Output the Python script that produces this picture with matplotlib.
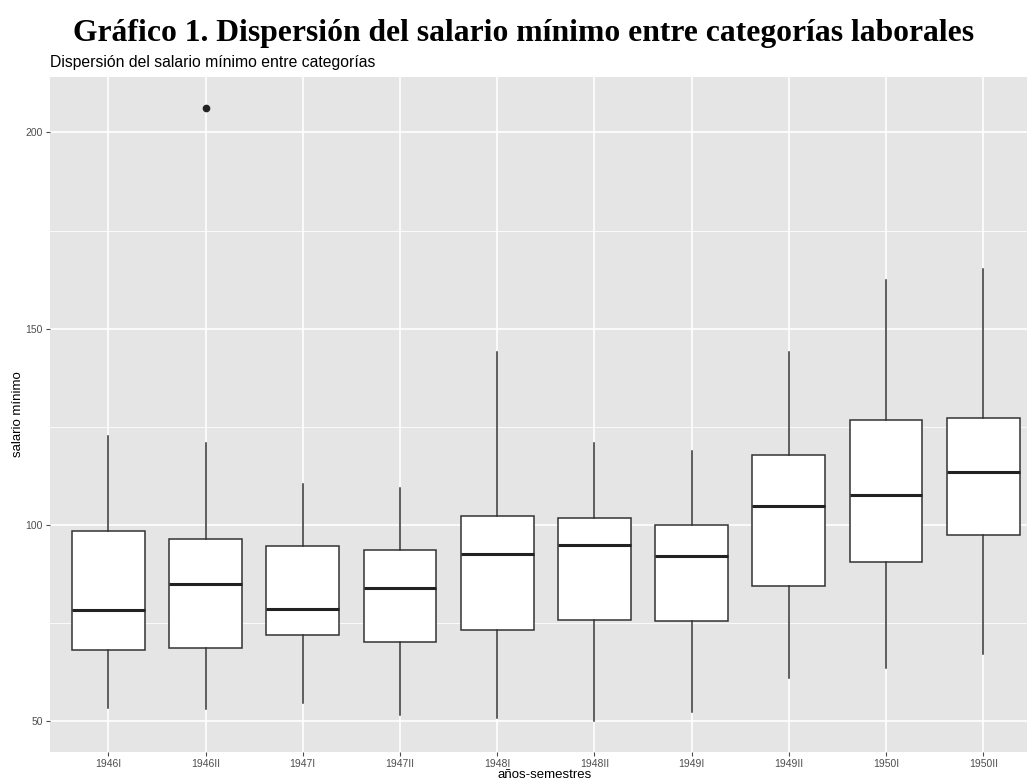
import matplotlib
matplotlib.use("Agg")
import matplotlib.pyplot as plt
from matplotlib.ticker import MultipleLocator

plt.rcParams['font.family'] = ['Liberation Sans', 'DejaVu Sans']

# semestres y estadisticos de cada caja
periodos = ["1946I", "1946II", "1947I", "1947II", "1948I",
            "1948II", "1949I", "1949II", "1950I", "1950II"]
whisker_low = [53.3, 53.1, 54.8, 51.6, 50.9, 50.0, 52.3, 61.1, 63.6, 67.1]
q1 = [68.1, 68.7, 72.0, 70.2, 73.3, 75.8, 75.6, 84.5, 90.7, 97.5]
mediana = [78.3, 84.9, 78.7, 83.9, 92.6, 94.9, 92.2, 104.8, 107.6, 113.6]
q3 = [98.6, 96.4, 94.6, 93.6, 102.2, 101.8, 99.9, 117.8, 126.8, 127.2]
whisker_high = [122.6, 120.9, 110.5, 109.4, 144.0, 120.8, 118.9, 144.0, 162.5, 165.3]
outliers = [[], [206.3], [], [], [], [], [], [], [], []]

stats = []
for i in range(len(periodos)):
    stats.append(dict(med=mediana[i], q1=q1[i], q3=q3[i],
                      whislo=whisker_low[i], whishi=whisker_high[i],
                      fliers=outliers[i], label=periodos[i]))

fig = plt.figure(figsize=(10.27, 7.81), dpi=100)
ax = fig.add_axes([50 / 1027, 1 - 752 / 781, 1 - 50 / 1027, (752 - 77) / 781])
ax.set_facecolor("#E5E5E5")

line_col = "#333333"
ax.bxp(stats, positions=range(1, len(periodos) + 1), widths=0.75,
       showcaps=False, patch_artist=True,
       boxprops=dict(facecolor="white", edgecolor=line_col, linewidth=1.1),
       whiskerprops=dict(color=line_col, linewidth=1.1),
       medianprops=dict(color="#222222", linewidth=2.2),
       flierprops=dict(marker="o", markerfacecolor="#222222",
                       markeredgecolor="#222222", markersize=4.5),
       zorder=3)

ax.set_xlim(0.4, 10.45)
ax.set_ylim(42.2, 214.1)
ax.yaxis.set_major_locator(MultipleLocator(50))
ax.yaxis.set_minor_locator(MultipleLocator(25))
ax.grid(which="major", color="white", linewidth=1.2, zorder=0)
ax.grid(which="minor", axis="y", color="white", linewidth=0.6, zorder=0)
ax.set_axisbelow(True)
for s in ax.spines.values():
    s.set_visible(False)

ax.tick_params(axis="both", which="major", colors="#4D4D4D", labelsize=7.5,
               length=3, width=0.8, pad=2)
ax.tick_params(axis="y", which="minor", length=0)
ax.set_xticklabels(periodos)

ax.set_ylabel("salario mínimo", fontsize=9.5, labelpad=1)
fig.text(545 / 1027, 1 - 775 / 781, "años-semestres", fontsize=9.5,
         ha="center", va="center")

fig.text(524 / 1027, 1 - 33 / 781,
         "Gráfico 1. Dispersión del salario mínimo entre categorías laborales",
         fontsize=22.8, fontweight="bold",
         family=["Liberation Serif", "DejaVu Serif"],
         ha="center", va="center")
fig.text(50 / 1027, 1 - 63 / 781,
         "Dispersión del salario mínimo entre categorías",
         fontsize=11.3, ha="left", va="center")

fig.savefig("out.png", dpi=100)
